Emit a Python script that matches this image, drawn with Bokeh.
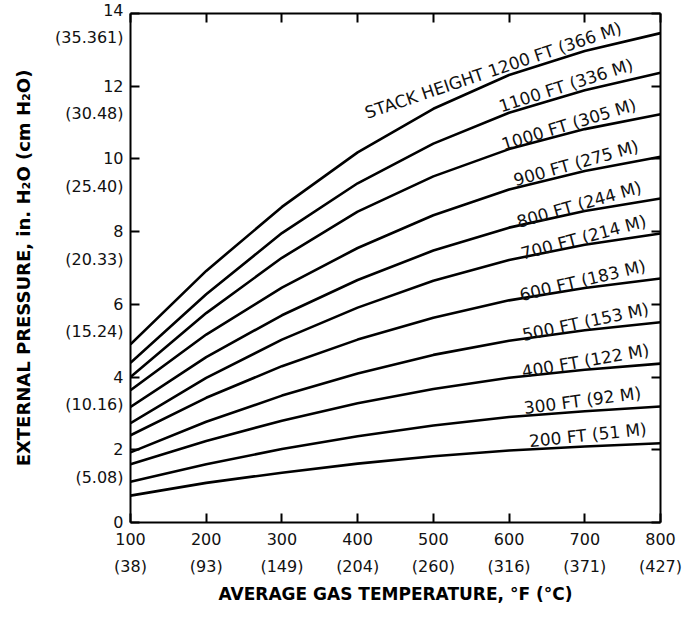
import numpy as np
from bokeh.plotting import figure
from bokeh.models import Range1d, LinearAxis, FixedTicker
from bokeh.embed import file_html
from bokeh.resources import INLINE
from bokeh.core.properties import value

# ---- data ----
temps_f = [100, 200, 300, 400, 500, 600, 700, 800]
temps_c = ["(38)", "(93)", "(149)", "(204)", "(260)", "(316)", "(371)", "(427)"]

y_ticks = [0, 2, 4, 6, 8, 10, 12, 14]
y_ticks_cm = ["", "(5.08)", "(10.16)", "(15.24)", "(20.33)", "(25.40)", "(30.48)", "(35.361)"]

heights_ft = [200, 300, 400, 500, 600, 700, 800, 900, 1000, 1100, 1200]
heights_m = [51, 92, 122, 153, 183, 214, 244, 275, 305, 336, 366]

p200 = [0.74, 1.09, 1.37, 1.62, 1.82, 1.98, 2.09, 2.18]
p300 = [1.12, 1.60, 2.02, 2.37, 2.67, 2.90, 3.06, 3.19]
p400 = [1.60, 2.24, 2.80, 3.28, 3.67, 3.98, 4.20, 4.37]
p500 = [1.93, 2.77, 3.49, 4.10, 4.61, 5.00, 5.29, 5.51]
p600 = [2.40, 3.43, 4.30, 5.03, 5.63, 6.11, 6.45, 6.71]
p700 = [2.73, 3.98, 5.03, 5.91, 6.65, 7.22, 7.64, 7.95]
p800 = [3.18, 4.55, 5.70, 6.67, 7.48, 8.11, 8.57, 8.91]
p900 = [3.64, 5.17, 6.46, 7.55, 8.45, 9.16, 9.67, 10.06]
p1000 = [4.00, 5.76, 7.28, 8.55, 9.52, 10.27, 10.82, 11.23]
p1100 = [4.39, 6.28, 7.96, 9.33, 10.42, 11.27, 11.89, 12.37]
p1200 = [4.90, 6.92, 8.68, 10.18, 11.38, 12.31, 12.97, 13.46]
curves = [p200, p300, p400, p500, p600, p700, p800, p900, p1000, p1100, p1200]

# label placement (style): right end temperature and angle in degrees
label_end_t = [783, 776, 787, 787, 783, 784, 778, 774, 771, 767, 752]
label_angle = [6, 7.5, 10, 12, 13.4, 15, 16, 15.6, 17, 17.8, 18.6]

FONT = "DejaVu Sans"

p = figure(width=695, height=633, x_range=Range1d(100, 800), y_range=Range1d(0, 14),
           output_backend="svg", toolbar_location=None,
           min_border_left=130, min_border_right=35, min_border_top=13, min_border_bottom=111)
p.xgrid.visible = False
p.ygrid.visible = False
p.outline_line_color = None
p.background_fill_color = "white"
p.border_fill_color = "white"

for c in curves:
    p.line(temps_f, c, line_color="black", line_width=2.6, line_join="round")

texts = []
for ft, m in zip(heights_ft, heights_m):
    t = f"{ft} FT ({m} M)"
    if ft == 1200:
        t = "STACK HEIGHT " + t
    texts.append(t)
lx = label_end_t
ly = [float(np.interp(t, temps_f, c)) for t, c in zip(lx, curves)]
p.text(x=lx, y=ly, text=texts, angle=label_angle, angle_units="deg",
       text_align="right", text_baseline="bottom", y_offset=-5,
       text_font=value(FONT), text_font_size="17px", text_color="#111111")

# axes
xa = p.xaxis[0]
ya = p.yaxis[0]
xa.ticker = FixedTicker(ticks=temps_f)
xa.major_label_overrides = {t: f"{t}\n{c}" for t, c in zip(temps_f, temps_c)}
ya.ticker = FixedTicker(ticks=y_ticks)
overrides = {}
for t, c in zip(y_ticks, y_ticks_cm):
    if not c:
        overrides[t] = str(t)
    elif t == y_ticks[-1]:
        overrides[t] = f"{t}\n{c}"
    else:
        overrides[t] = f"\u00a0\n{t}\n{c}"
ya.major_label_overrides = overrides

top = LinearAxis(ticker=FixedTicker(ticks=temps_f))
right = LinearAxis(ticker=FixedTicker(ticks=y_ticks))
p.add_layout(top, "above")
p.add_layout(right, "right")

for ax in [xa, ya, top, right]:
    ax.axis_line_width = 2
    ax.axis_line_color = "black"
    ax.major_tick_in = 9
    ax.major_tick_out = 0
    ax.major_tick_line_width = 2
    ax.major_tick_line_color = "black"
    ax.minor_tick_line_color = None
    ax.major_label_text_font = FONT
    ax.major_label_text_font_size = "16px"
    ax.major_label_text_color = "#111111"
    ax.major_label_standoff = 7

for ax in [top, right]:
    ax.major_label_text_font_size = "0px"
    ax.major_label_text_color = None

xa.major_label_text_line_height = 1.45
ya.major_label_text_line_height = 1.45

xa.axis_label = "AVERAGE GAS TEMPERATURE, °F (°C)"
ya.axis_label = "EXTERNAL PRESSURE, in. H₂O (cm H₂O)"
for ax in [xa, ya]:
    ax.axis_label_text_font = FONT
    ax.axis_label_text_font_style = "bold"
    ax.axis_label_text_color = "black"
xa.axis_label_text_font_size = "17px"
ya.axis_label_text_font_size = "18px"
xa.axis_label_standoff = 5
ya.axis_label_standoff = 18

open("out.html", "w").write(file_html(p, INLINE))
